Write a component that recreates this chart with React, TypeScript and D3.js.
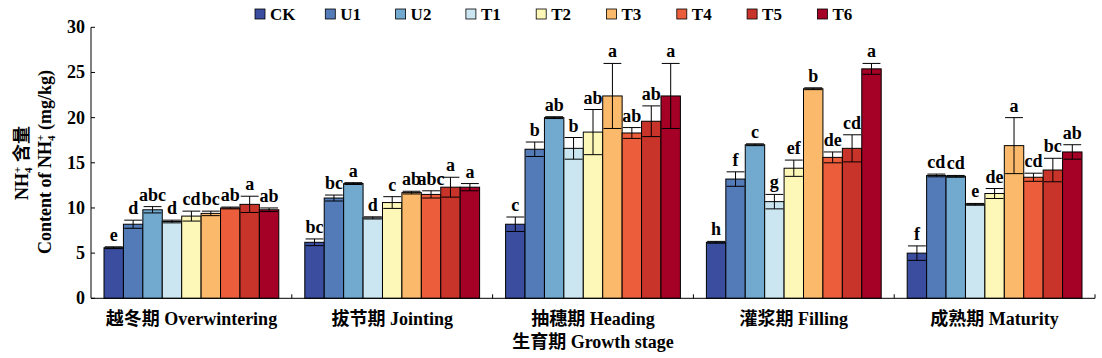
import React from 'react'
import * as d3 from 'd3'

const stages = ['越冬期 Overwintering', '拔节期 Jointing', '抽穗期 Heading', '灌浆期 Filling', '成熟期 Maturity']
const treatments = ['CK', 'U1', 'U2', 'T1', 'T2', 'T3', 'T4', 'T5', 'T6']
const colors = ['#3a4d9f', '#537bb8', '#72a9cf', '#cce6f1', '#fef8b8', '#fbba6b', '#ec5d3b', '#c9342a', '#a50026']

// mean values per stage, in treatment order
const overwintering = [5.6, 8.2, 9.8, 8.5, 9.1, 9.4, 10.0, 10.4, 9.8]
const jointing = [6.2, 11.1, 12.7, 8.9, 10.6, 11.7, 11.5, 12.3, 12.3]
const heading = [8.2, 16.5, 20.0, 16.6, 18.4, 22.4, 18.3, 19.6, 22.4]
const filling = [6.2, 13.2, 17.0, 10.7, 14.4, 23.2, 15.6, 16.6, 25.4]
const maturity = [5.0, 13.6, 13.5, 10.4, 11.6, 16.9, 13.4, 14.2, 16.2]

// error (±)
const overwinteringErr = [0.1, 0.45, 0.35, 0.15, 0.55, 0.25, 0.1, 0.9, 0.2]
const jointingErr = [0.37, 0.33, 0.1, 0.12, 0.65, 0.15, 0.4, 1.1, 0.4]
const headingErr = [0.8, 0.8, 0.1, 1.2, 2.5, 3.6, 0.6, 1.7, 3.6]
const fillingErr = [0.1, 0.8, 0.1, 0.8, 0.9, 0.1, 0.6, 1.5, 0.6]
const maturityErr = [0.8, 0.15, 0.1, 0.1, 0.55, 3.1, 0.45, 1.3, 0.8]

// significance letters
const overwinteringSig = ['e', 'd', 'abc', 'd', 'cd', 'bc', 'ab', 'a', 'ab']
const jointingSig = ['bc', 'bc', 'a', 'd', 'c', 'ab', 'abc', 'a', 'a']
const headingSig = ['c', 'b', 'ab', 'b', 'ab', 'a', 'ab', 'ab', 'a']
const fillingSig = ['h', 'f', 'c', 'g', 'ef', 'b', 'de', 'cd', 'a']
const maturitySig = ['f', 'cd', 'cd', 'e', 'de', 'a', 'cd', 'bc', 'ab']

const yTicks = [0, 5, 10, 15, 20, 25, 30]

const values = [overwintering, jointing, heading, filling, maturity]
const errs = [overwinteringErr, jointingErr, headingErr, fillingErr, maturityErr]
const sigs = [overwinteringSig, jointingSig, headingSig, fillingSig, maturitySig]

const font = "'Times New Roman', 'Liberation Serif', 'Noto Sans CJK SC', serif"

export default function App() {
  const W = 1102
  const H = 358
  const left = 91
  const right = 1095
  const top = 27.3
  const bottom = 298.3

  const x0 = d3.scaleBand().domain(stages).range([left, right]).padding(0)
  const gw = x0.bandwidth()
  const x1 = d3.scaleBand().domain(treatments).range([13, gw - 13]).padding(0)
  const y = d3.scaleLinear().domain([0, 30]).range([bottom, top])
  const bw = x1.bandwidth()
  const capW = bw * 0.92

  const nh4 = (
    <>
      NH
      <tspan fontSize="11" dy="4">4</tspan>
      <tspan fontSize="11" dx="-5.5" dy="-11">+</tspan>
      <tspan dy="7"> </tspan>
    </>
  )

  return (
    <svg
      width={W}
      height={H}
      style={{ position: 'absolute', left: 0, top: 0, background: '#fff', fontFamily: font }}
    >
      {/* legend */}
      <g fontWeight="bold" fontSize="17">
        {treatments.map((t, i) => (
          <g key={t} transform={`translate(${255 + i * 70.3},9)`}>
            <rect width={10} height={10} fill={colors[i]} stroke="#000" strokeWidth={0.8} />
            <text x={15} y={10.5}>{t}</text>
          </g>
        ))}
      </g>

      {/* bars */}
      {stages.map((s, si) => (
        <g key={s} transform={`translate(${x0(s)},0)`}>
          {treatments.map((t, ti) => {
            const v = values[si][ti]
            const e = errs[si][ti]
            const cx = (x1(t) as number) + bw / 2
            return (
              <g key={t}>
                <rect x={x1(t)} y={y(v)} width={bw} height={y(0) - y(v)} fill={colors[ti]} stroke="#000" strokeWidth={1} />
                <line x1={cx} x2={cx} y1={y(v - e)} y2={y(v + e)} stroke="#000" strokeWidth={1} />
                <line x1={cx - capW / 2} x2={cx + capW / 2} y1={y(v + e)} y2={y(v + e)} stroke="#000" strokeWidth={1} />
                <line x1={cx - capW / 2} x2={cx + capW / 2} y1={y(v - e)} y2={y(v - e)} stroke="#000" strokeWidth={1} />
                <text x={cx} y={y(v + e) - 6} textAnchor="middle" fontWeight="bold" fontSize="18">
                  {sigs[si][ti]}
                </text>
              </g>
            )
          })}
        </g>
      ))}

      {/* axes */}
      <line x1={left} x2={left} y1={top} y2={bottom} stroke="#000" />
      <line x1={left} x2={right} y1={bottom} y2={bottom} stroke="#000" />
      {yTicks.map((t) => (
        <g key={t}>
          <line x1={left} x2={left + 4} y1={y(t)} y2={y(t)} stroke="#000" />
          <text x={left - 6} y={y(t) + 6} textAnchor="end" fontWeight="bold" fontSize="18">
            {t}
          </text>
        </g>
      ))}
      {stages.map((s) => (
        <g key={s}>
          <line x1={(x0(s) as number) + gw} x2={(x0(s) as number) + gw} y1={bottom} y2={bottom - 4} stroke="#000" />
          <text x={(x0(s) as number) + gw / 2} y={325} textAnchor="middle" fontWeight="bold" fontSize="18">
            {s}
          </text>
        </g>
      ))}
      <text x={(left + right) / 2} y={348} textAnchor="middle" fontWeight="bold" fontSize="18">
        生育期 Growth stage
      </text>

      {/* y title */}
      <g transform={`translate(28,163) rotate(-90)`} fontWeight="bold" fontSize="18">
        <text textAnchor="middle">
          {nh4}含量
        </text>
      </g>
      <g transform={`translate(51,162) rotate(-90)`} fontWeight="bold" fontSize="18">
        <text textAnchor="middle">
          Content of {nh4}(mg/kg)
        </text>
      </g>
    </svg>
  )
}
